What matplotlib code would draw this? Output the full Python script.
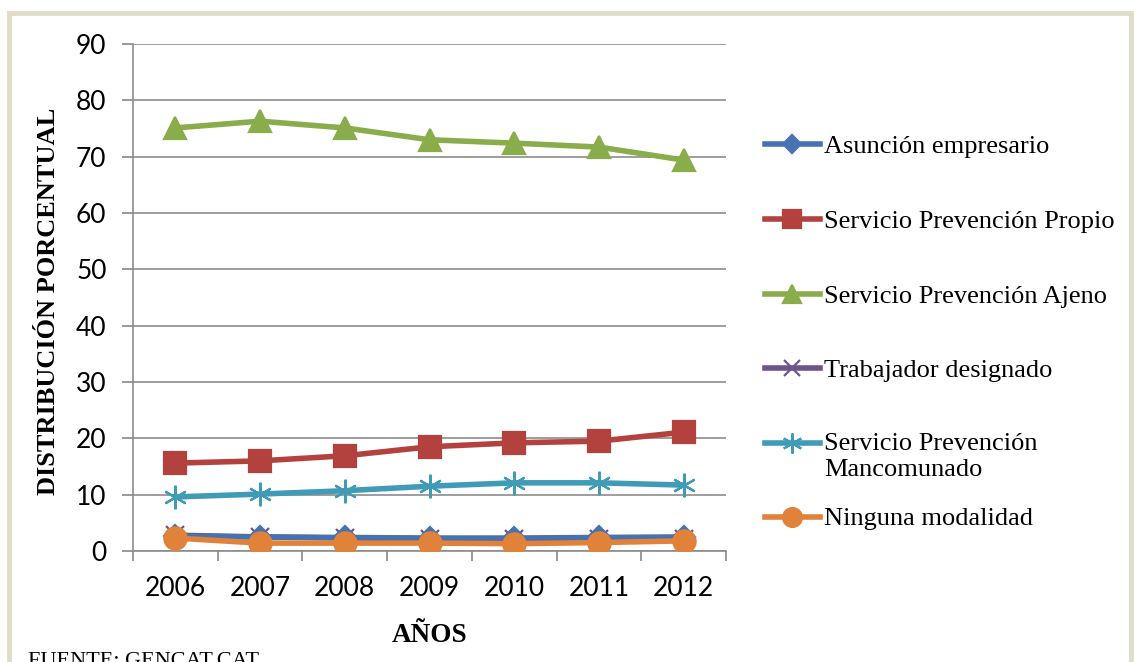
import matplotlib
matplotlib.use("Agg")
import matplotlib.pyplot as plt
from matplotlib.patches import Rectangle
from matplotlib.lines import Line2D

# Data
years = ["2006", "2007", "2008", "2009", "2010", "2011", "2012"]
asuncion = [2.6, 2.5, 2.4, 2.3, 2.3, 2.4, 2.5]
propio = [15.6, 16.0, 16.9, 18.5, 19.2, 19.5, 21.1]
ajeno = [75.1, 76.3, 75.1, 73.0, 72.4, 71.7, 69.4]
trabajador = [2.8, 2.5, 2.3, 2.2, 2.1, 2.2, 2.1]
mancomunado = [9.6, 10.1, 10.7, 11.5, 12.1, 12.1, 11.7]
ninguna = [2.3, 1.4, 1.4, 1.4, 1.3, 1.5, 1.8]

labels = ["Asunción empresario", "Servicio Prevención Propio",
          "Servicio Prevención Ajeno", "Trabajador designado",
          "Servicio Prevención\nMancomunado", "Ninguna modalidad"]
colors = ["#4673b0", "#b3423f", "#8aad4c", "#6d5390", "#3f9bb6", "#e0823a"]
markers = ["D", "s", "^", "x", (6, 2, 0), "o"]
sizes = [11, 16, 16, 13, 17, 16]

fig = plt.figure(figsize=(11.34, 6.62), dpi=100)
W, H = 1134, 662
ax = fig.add_axes([133 / W, 1 - 551 / H, (726 - 133) / W, (551 - 44) / H])

# beige frame
fig.patches.append(Rectangle((9 / W, -0.1), (1131 - 9) / W, 1 - 13 / H + 0.1,
                             transform=fig.transFigure, fill=False,
                             edgecolor="#e0dcc8", linewidth=3.5))

x = list(range(len(years)))
series = [asuncion, propio, ajeno, trabajador, mancomunado, ninguna]
zorders = [3, 3, 3, 2, 3, 4]
for vals, c, m, s, z in zip(series, colors, markers, sizes, zorders):
    ax.plot(x, vals, color=c, lw=4, marker=m, ms=s, mew=1.6,
            mec=c, mfc=c, zorder=z)

tick_font = ["Liberation Sans Narrow", "Lato"]
ax.set_xlim(-0.5, len(years) - 0.5)
ax.set_ylim(0, 90)
ax.set_yticks(range(0, 91, 10))
ax.set_xticks(x)
ax.set_xticklabels(years)
ax.set_xticks([i - 0.5 for i in range(len(years) + 1)], minor=True)
ax.tick_params(axis="x", which="major", length=0, pad=18, labelsize=19)
ax.tick_params(axis="x", which="minor", length=7, color="#888888", width=1.2)
ax.tick_params(axis="y", length=8, color="#888888", width=1.2, labelsize=19, pad=11)
for lab in ax.get_xticklabels() + ax.get_yticklabels():
    lab.set_fontfamily(tick_font)

ax.grid(axis="y", color="#8c8c8c", lw=1.2)
ax.set_axisbelow(True)
for side in ["top", "right"]:
    ax.spines[side].set_visible(False)
for side in ["left", "bottom"]:
    ax.spines[side].set_color("#8c8c8c")
    ax.spines[side].set_linewidth(1.2)

fig.text(49 / W, 1 - 301 / H, "DISTRIBUCIÓN PORCENTUAL", rotation=90,
         ha="center", va="center", fontsize=19, fontweight="bold",
         family="Liberation Serif")
fig.text(430 / W, 1 - 636 / H, "AÑOS", ha="center", va="center",
         fontsize=19.5, fontweight="bold", family="Liberation Serif")
fig.text(28 / W, 1 - 666 / H, "FUENTE: GENCAT.CAT", ha="left", va="baseline",
         fontsize=16, family="Liberation Serif")

# legend, laid out by hand to follow the reference spacing
leg_y = [144, 219, 294, 368, 443, 517]
for lab, c, m, s, yy in zip(labels, colors, markers, sizes, leg_y):
    yf = 1 - yy / H
    fig.add_artist(Line2D([765 / W, 820 / W], [yf, yf], color=c, lw=4,
                          transform=fig.transFigure))
    fig.add_artist(Line2D([792 / W], [yf], color=c, marker=m, ms=s * 0.85,
                          mew=1.6, mec=c, mfc=c, transform=fig.transFigure))
    if "\n" in lab:
        fig.text(824 / W, 1 - (yy - 10) / H, lab, ha="left", va="top",
                 fontsize=19, family="Liberation Serif", linespacing=1.25)
    else:
        fig.text(824 / W, yf, lab, ha="left", va="center_baseline",
                 fontsize=19, family="Liberation Serif")

fig.savefig("out.png", dpi=100)
